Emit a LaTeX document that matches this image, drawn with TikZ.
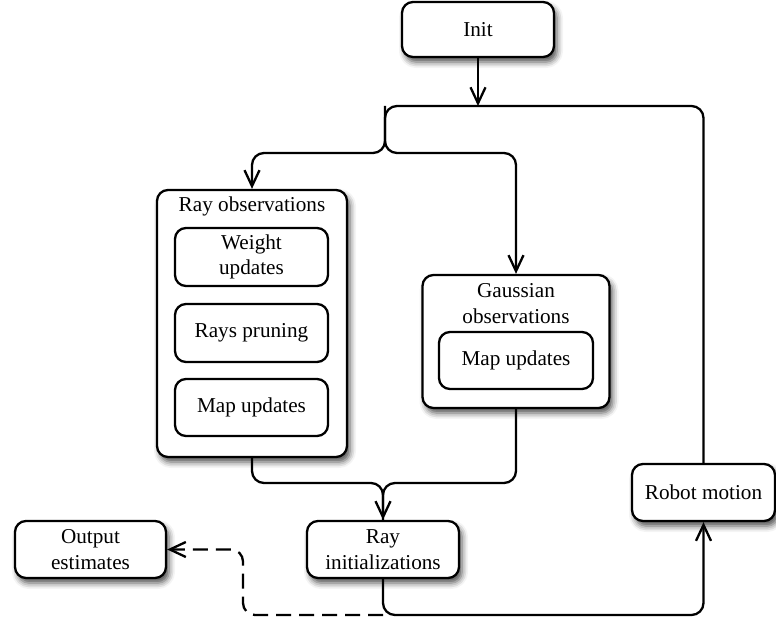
\documentclass[tikz,border=0pt]{standalone}
\usepackage{fontspec}
\setmainfont{Liberation Serif}
\usetikzlibrary{arrows.meta,shadows.blur}
\begin{document}
\begin{tikzpicture}[x=1pt,y=-1pt,
  font=\fontsize{21.2}{25.5}\selectfont,
  box/.style={draw=black,line width=2.3pt,rounded corners=11pt,fill=white,align=center,inner sep=0pt,
    blur shadow={shadow xshift=3pt,shadow yshift=-5pt,shadow blur radius=6pt,shadow opacity=70}},
  inbox/.style={draw=black,line width=2.3pt,rounded corners=11pt,fill=white,align=center,inner sep=0pt},
  conn/.style={line width=2.3pt,rounded corners=12pt},
  tip/.style={-{Straight Barb[length=16pt,width=15pt,line width=2.3pt]}},
  dsh/.style={dash pattern=on 15pt off 8pt}]
\useasboundingbox (0,0) rectangle (776,623);
% nodes
\node[box,minimum width=152pt,minimum height=55pt] (init) at (478,29.5) {Init};
\node[box,minimum width=190pt,minimum height=267pt] (rayobs) at (252,323.5) {};
\node (rayobstitle) at (252,206) {Ray observations};
\node[inbox,minimum width=153pt,minimum height=58pt] (weight) at (251.5,257) {Weight\\updates};
\node[inbox,minimum width=153pt,minimum height=58pt] (pruning) at (251.5,333) {Rays pruning};
\node[inbox,minimum width=153pt,minimum height=57pt] (mapa) at (251.5,407.5) {Map updates};
\node[box,minimum width=187pt,minimum height=133pt] (gauss) at (516,341.5) {};
\node[align=center] (gausstitle) at (516,303.5) {Gaussian\\observations};
\node[inbox,minimum width=154pt,minimum height=57pt] (mapb) at (516,360.5) {Map updates};
\node[box,minimum width=152pt,minimum height=57pt] (rayinit) at (383,549.5) {Ray\\initializations};
\node[box,minimum width=151pt,minimum height=57pt] (output) at (90.5,549.5) {Output\\estimates};
\node[box,minimum width=143pt,minimum height=57pt] (robot) at (703.5,492.5) {Robot motion};
\coordinate (top) at (478,106);
\coordinate (split) at (385,106);
\coordinate (merge) at (383,483);
\coordinate (bottom) at (383,615);
\coordinate (dleft) at (243,615);
% connectors
\draw[conn,tip] (init.south) -- (top);
\draw[conn,tip] (robot.north) |- (split) -- (385,153) -| (rayobs.north);
\draw[conn,tip] (split) -- (385,153) -| (gauss.north);
\draw[conn] (rayobs.south) |- (merge) -- (rayinit.north);
\draw[conn,tip] (gauss.south) |- (merge) -- (rayinit.north);
\draw[conn,tip] (rayinit.south) -- (bottom) -| (robot.south);
\draw[conn,dsh,tip] (bottom) -- (dleft) |- (output.east);
\end{tikzpicture}
\end{document}
